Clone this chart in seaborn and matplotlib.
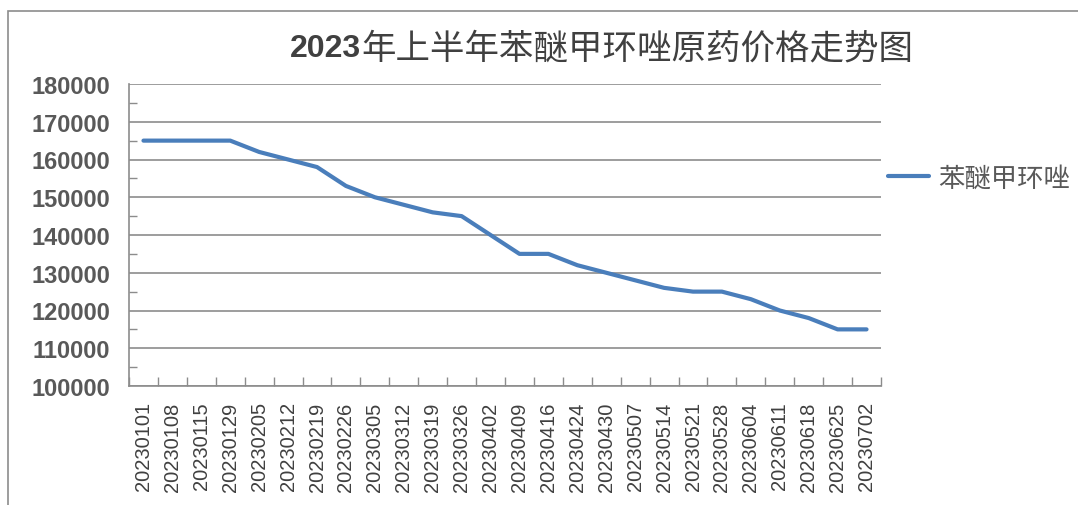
import numpy as np
import pandas as pd
import matplotlib
matplotlib.use("Agg")
import matplotlib.pyplot as plt
import seaborn as sns
from matplotlib.patches import Rectangle
from matplotlib.ticker import MultipleLocator, FixedLocator

# -----------------------------------
# Data
# -----------------------------------

dates = [
    "20230101", "20230108", "20230115", "20230129", "20230205", "20230212",
    "20230219", "20230226", "20230305", "20230312", "20230319", "20230326",
    "20230402", "20230409", "20230416", "20230424", "20230430", "20230507",
    "20230514", "20230521", "20230528", "20230604", "20230611", "20230618",
    "20230625", "20230702",
]

prices = [
    165000, 165000, 165000, 165000, 162000, 160000,
    158000, 153000, 150000, 148000, 146000, 145000,
    140000, 135000, 135000, 132000, 130000, 128000,
    126000, 125000, 125000, 123000, 120000, 118000,
    115000, 115000,
]

series_name = "苯醚甲环唑"
title_num = "2023"
title_rest = "年上半年苯醚甲环唑原药价格走势图"

df = pd.DataFrame({"date": dates, "price": prices})

# -----------------------------------
# Style
# -----------------------------------

sns.set_theme(style="white")
plt.rcParams["font.family"] = ["Liberation Sans", "Noto Sans CJK SC", "DejaVu Sans"]

axis_gray = "#8c8c8c"
text_gray = "#595959"

fig = plt.figure(figsize=(10.78, 5.06), dpi=100)
ax = fig.add_axes([129 / 1078, 1 - 387 / 506, (881 - 129) / 1078, (387 - 85) / 506])

sns.lineplot(
    data=df,
    x="date",
    y="price",
    color="#4a7ebb",
    linewidth=3.0,
    label=series_name,
    ax=ax,
)

# -----------------------------------
# Axes
# -----------------------------------

ax.set_xlim(-0.5, len(dates) - 0.5)
ax.set_ylim(100000, 180000)
ax.yaxis.set_major_locator(MultipleLocator(10000))
ax.yaxis.set_minor_locator(FixedLocator(np.arange(105000, 180000, 10000)))
ax.xaxis.set_minor_locator(FixedLocator(np.arange(-0.5, len(dates), 1)))

ax.grid(axis="y", color=axis_gray, linewidth=1.2)
ax.grid(axis="x", visible=False)

for side in ["top", "right"]:
    ax.spines[side].set_visible(False)
for side in ["left", "bottom"]:
    ax.spines[side].set_color(axis_gray)
    ax.spines[side].set_linewidth(1.2)

ax.tick_params(axis="y", which="major", length=0, pad=13.5,
               labelsize=17, labelcolor=text_gray)
ax.tick_params(axis="y", which="minor", direction="in", length=5.5,
               width=1.0, color=axis_gray, left=True)
ax.tick_params(axis="x", which="major", length=0, pad=11,
               labelsize=14.5, labelcolor="#404040", labelrotation=90)
ax.tick_params(axis="x", which="minor", direction="in", length=6.5,
               width=1.0, color=axis_gray, bottom=True)

for lbl in ax.get_yticklabels():
    lbl.set_fontweight("bold")

ax.set_xlabel("")
ax.set_ylabel("")

# -----------------------------------
# Legend
# -----------------------------------

ax.legend(
    loc="center left",
    bbox_to_anchor=(888 / 1078, 1 - 179 / 506),
    bbox_transform=fig.transFigure,
    frameon=False,
    fontsize=19,
    handlelength=1.55,
    handletextpad=0.35,
    borderpad=0,
    borderaxespad=0,
    labelcolor=text_gray,
)

# -----------------------------------
# Title
# -----------------------------------

title_y = 1 - 49 / 506
split_x = 361 / 1078
fig.text(split_x, title_y, title_num, ha="right", va="center",
         fontsize=23, fontweight="bold", color="#404040")
fig.text(split_x, title_y, title_rest, ha="left", va="center",
         fontsize=24.8, color="#404040")

# -----------------------------------
# Outer frame
# -----------------------------------

fig.patches.append(Rectangle(
    (8 / 1078, -0.05), 1.2, 1 - 12 / 506 + 0.05,
    transform=fig.transFigure, fill=False,
    edgecolor=axis_gray, linewidth=1.2,
))

fig.savefig("out.png", dpi=100)
